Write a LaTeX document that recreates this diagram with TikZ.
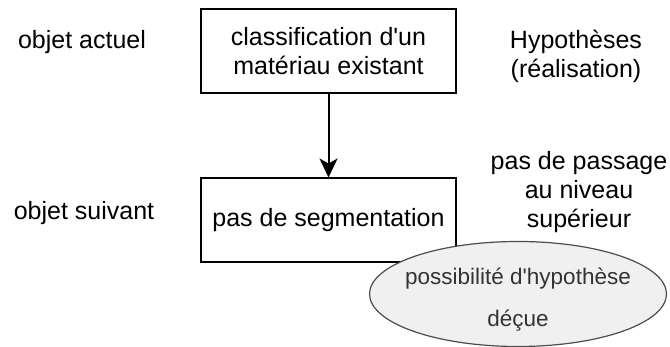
\documentclass[tikz,border=0pt]{standalone}
\usepackage{fontspec}
\setmainfont{Liberation Sans}[Ligatures=ResetAll]
\newfontfamily\arialf{Liberation Sans}
\usetikzlibrary{shapes.geometric,arrows.meta}
\begin{document}
\begin{tikzpicture}[x=1pt,y=-1pt,
  boxstyle/.style={draw=black,line width=2pt,minimum width=255pt,minimum height=84pt,align=center,font=\arialf\fontsize{25}{29}\selectfont,inner sep=0pt},
  lbl/.style={align=center,font=\arialf\fontsize{25}{29}\selectfont,inner sep=0pt},
  ell/.style={ellipse,draw=black!70,fill=black!6,line width=1.2pt,minimum width=297pt,minimum height=105pt,inner sep=0pt},
  elltext/.style={align=center,font=\arialf\fontsize{22.5}{42}\selectfont,text=black!80,inner sep=0pt}]
\useasboundingbox (0,0) rectangle (670,347);
\node[boxstyle] (top) at (328.5,51) {classification d'un\\matériau existant};
\node[boxstyle] (bot) at (328.5,220.5) {pas de segmentation};
\draw[line width=2pt,-{Stealth[length=19pt,width=18pt,inset=5pt]}] (top.south) -- (bot.north);
\node[ell] (hyp) at (518,294) {};
\node[elltext] (hyptext) at ([yshift=-6pt]hyp.center) {possibilité d'hypothèse\\déçue};
\node[lbl] (oa) at (82,42) {objet actuel};
\node[lbl] (os) at (84,213) {objet suivant};
\node[lbl] (hr) at (576,56) {Hypothèses\\(réalisation)};
\node[lbl] (pp) at (579,192) {pas de passage\\au niveau\\supérieur};
\end{tikzpicture}
\end{document}
